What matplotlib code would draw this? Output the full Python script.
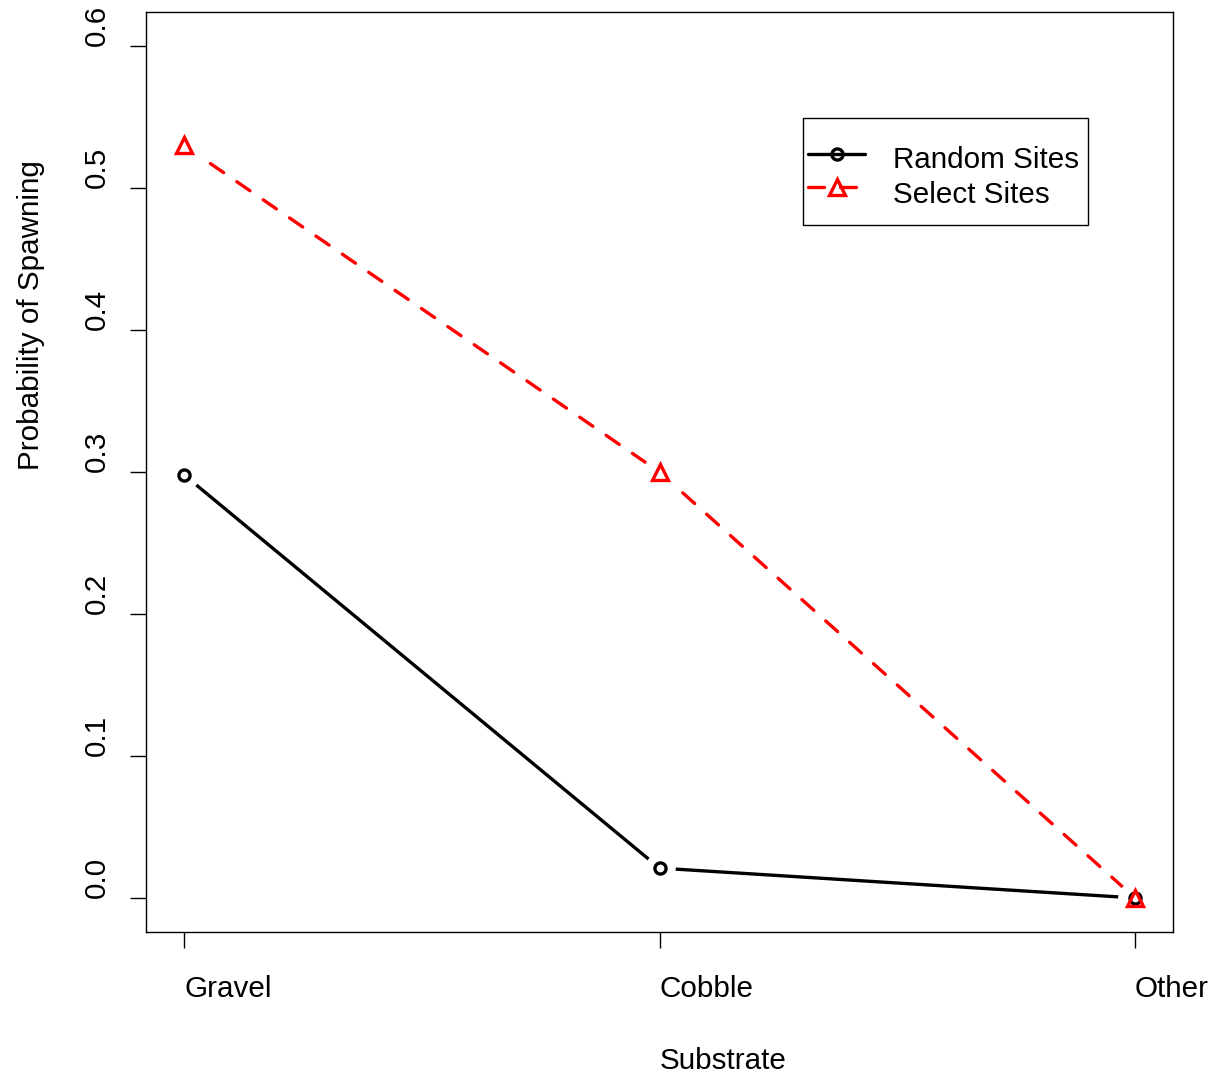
import matplotlib
matplotlib.use('Agg')
import matplotlib.pyplot as plt
from matplotlib.lines import Line2D
from matplotlib.patches import Rectangle

# data
substrate = ['Gravel', 'Cobble', 'Other']
random_sites = [0.298, 0.021, 0.0]
select_sites = [0.53, 0.30, 0.0]
y_ticks = [0.0, 0.1, 0.2, 0.3, 0.4, 0.5, 0.6]
legend_labels = ['Random Sites', 'Select Sites']

plt.rcParams['font.family'] = ['Liberation Sans', 'DejaVu Sans']
FS = 21.3
LW = 2.4
W, H = 1216, 1076


def fx(px):
    return px / W


def fy(py):
    return 1 - py / H


fig = plt.figure(figsize=(W / 100, H / 100), dpi=100)
ax = fig.add_axes([fx(146), fy(932), fx(1173) - fx(146), fy(12) - fy(932)])

x = list(range(1, len(substrate) + 1))
ax.set_xlim(0.92, 3.08)
ax.set_ylim(-0.024, 0.624)

# lines (type = "b" style: gaps around the points)
ax.plot(x, random_sites, color='black', lw=LW, solid_capstyle='round', zorder=2)
ax.plot(x, select_sites, color='red', lw=LW, dashes=(4.8, 4.8),
        dash_capstyle='round', zorder=2)
ax.plot(x, random_sites, 'o', ms=22, color='white', mec='none', zorder=3)
ax.plot(x, select_sites, 'o', ms=25, color='white', mec='none', zorder=3)
ax.plot(x, random_sites, 'o', ms=8, mfc='none', mec='black', mew=LW, zorder=4)
ax.plot(x, select_sites, '^', ms=12, mfc='none', mec='red', mew=LW, zorder=4)

# axes / ticks
for s in ax.spines.values():
    s.set_linewidth(1.0)
ax.set_xticks(x)
ax.set_yticks(y_ticks)
ax.set_xticklabels([])
ax.set_yticklabels([])
ax.tick_params(direction='out', length=11.5, width=1.0)

for xi, lab in zip(x, substrate):
    ax.text(xi, -0.0707, lab, transform=ax.get_xaxis_transform(),
            ha='left', va='baseline', fontsize=FS)
for yv in y_ticks:
    ax.text(-0.0475, yv, f'{yv:.1f}', transform=ax.get_yaxis_transform(),
            rotation=90, ha='center', va='bottom', fontsize=FS)

ax.text(0.5, -0.1489, 'Substrate', transform=ax.transAxes,
        ha='left', va='baseline', fontsize=FS)
ax.text(-0.1115, 0.502, 'Probability of Spawning', transform=ax.transAxes,
        rotation=90, ha='center', va='bottom', fontsize=FS)

# legend box drawn by hand to match the R layout
fig.patches.append(Rectangle((fx(803), fy(225)), fx(1088) - fx(803), fy(118) - fy(225),
                             transform=fig.transFigure, facecolor='white',
                             edgecolor='black', lw=1.0, zorder=5))
fig.add_artist(Line2D([fx(808), fx(865)], [fy(154), fy(154)], color='black', lw=LW,
                      solid_capstyle='round', zorder=6))
fig.add_artist(Line2D([fx(837)], [fy(154)], marker='o', ms=8, mfc='none', mec='black',
                      mew=LW, zorder=7))
fig.add_artist(Line2D([fx(808), fx(865)], [fy(187), fy(187)], color='red', lw=LW,
                      dashes=(4.8, 4.8), dash_capstyle='round', zorder=6))
fig.add_artist(Line2D([fx(837)], [fy(187)], marker='^', ms=12, mfc='none', mec='red',
                      mew=LW, zorder=7))
for lab, base in zip(legend_labels, [168, 203]):
    fig.text(fx(893), fy(base), lab, ha='left', va='baseline', fontsize=FS, zorder=7)

fig.savefig('out.png', dpi=100)
